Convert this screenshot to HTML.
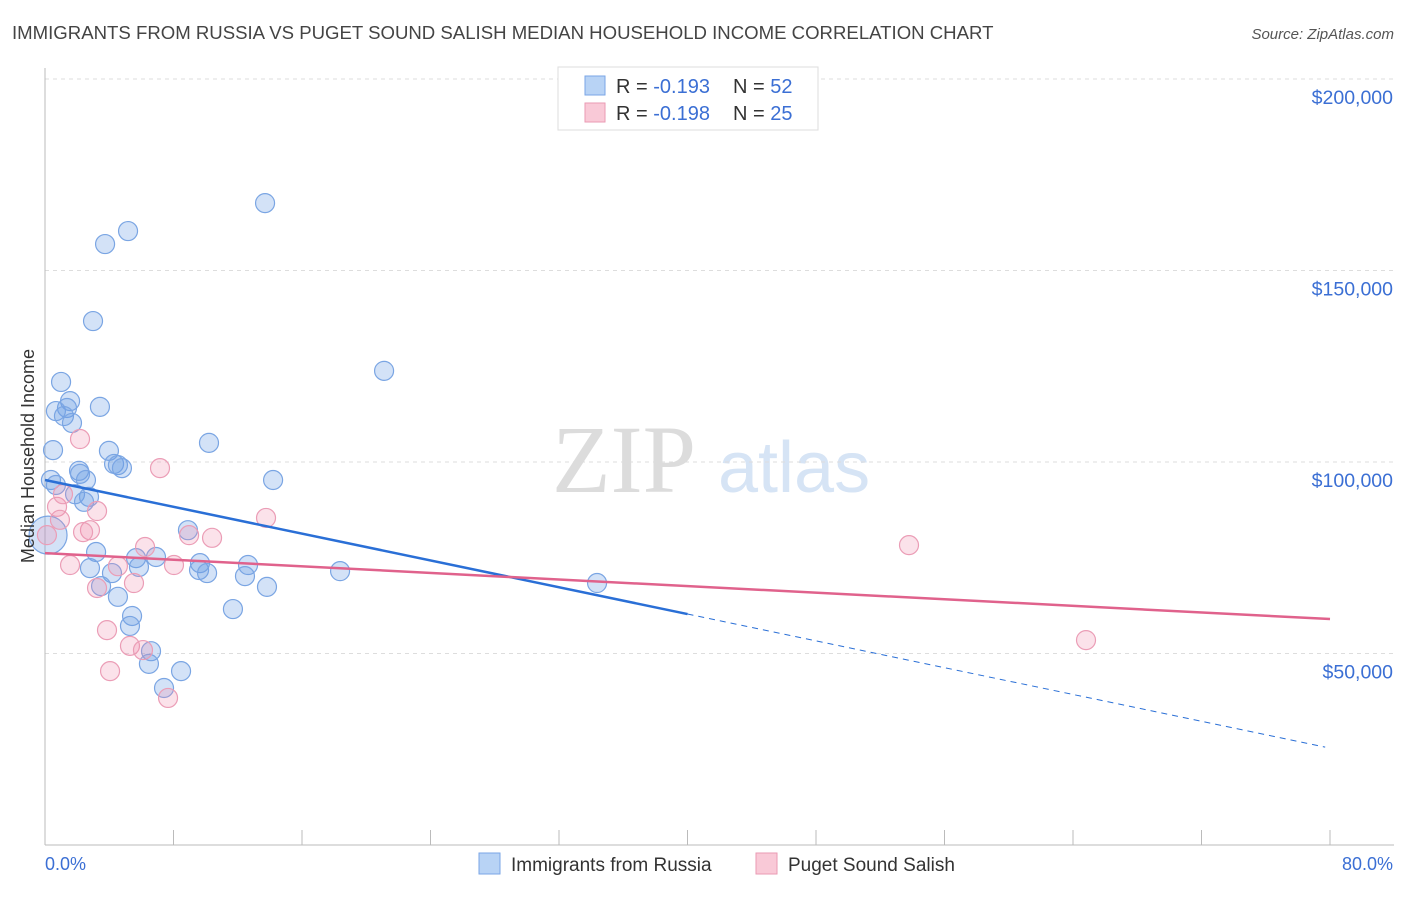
<!DOCTYPE html>
<html><head><meta charset="utf-8"><style>
body{margin:0;background:#fff;font-family:"Liberation Sans",sans-serif}
svg text{font-family:"Liberation Sans",sans-serif}
</style></head><body>
<svg id="c" width="1406" height="892" viewBox="0 0 1406 892">
<text x="12" y="39" font-size="18.6" fill="#444">IMMIGRANTS FROM RUSSIA VS PUGET SOUND SALISH MEDIAN HOUSEHOLD INCOME CORRELATION CHART</text>
<text x="1394" y="39" font-size="15" fill="#555" font-style="italic" text-anchor="end">Source: ZipAtlas.com</text>
<g>
<text x="552" y="492" font-size="96" fill="#dcdcdc" font-family="Liberation Serif" style="font-family:'Liberation Serif',serif">ZIP</text>
<text x="718" y="492" font-size="72" fill="#d6e4f5">atlas</text>
</g>
<g id="grid"></g>
<g id="axes"></g>
<g id="marks"></g>
<text transform="translate(34,456) rotate(-90)" font-size="18" fill="#333" text-anchor="middle">Median Household Income</text>
<text x="45" y="870" font-size="18" fill="#3b6fd4">0.0%</text>
<text x="1393" y="870" font-size="18" fill="#3b6fd4" text-anchor="end">80.0%</text>
<g>
<rect x="558" y="67" width="260" height="63" fill="#fff" stroke="#ddd"/>
<rect x="585" y="76" width="20" height="19" fill="#b8d3f5" stroke="#7aa6e6"/>
<text x="616" y="93" font-size="20" fill="#333">R = <tspan fill="#3b6fd4">-0.193</tspan></text>
<text x="733" y="93" font-size="20" fill="#333">N = <tspan fill="#3b6fd4">52</tspan></text>
<rect x="585" y="103" width="20" height="19" fill="#f9c9d7" stroke="#ea9ab3"/>
<text x="616" y="120" font-size="20" fill="#333">R = <tspan fill="#3b6fd4">-0.198</tspan></text>
<text x="733" y="120" font-size="20" fill="#333">N = <tspan fill="#3b6fd4">25</tspan></text>
</g>
<g>
<rect x="479" y="853" width="21" height="21" fill="#b8d3f5" stroke="#7aa6e6"/>
<text x="511" y="871" font-size="19" fill="#333">Immigrants from Russia</text>
<rect x="756" y="853" width="21" height="21" fill="#f9c9d7" stroke="#ea9ab3"/>
<text x="788" y="871" font-size="19" fill="#333">Puget Sound Salish</text>
</g>
</svg>
<script>
const yTicks=[50000,100000,150000,200000];
const yTickLabels=["$50,000","$100,000","$150,000","$200,000"];
const blueX=[13.70,5.17,3.74,2.99,21.11,1.00,1.56,3.42,1.37,0.68,1.18,1.68,10.21,0.50,3.98,4.30,4.54,4.79,2.12,2.18,14.20,2.55,0.37,0.68,1.87,2.74,2.43,0.19,8.90,3.18,5.67,6.91,2.80,9.65,9.59,12.64,5.85,10.09,4.17,12.45,18.37,34.37,13.82,3.49,4.54,11.70,5.42,5.29,6.60,6.47,8.47,7.41];
const blueY=[167.6,160.3,156.9,136.8,123.8,120.9,115.9,114.4,114.1,113.3,112.0,110.2,105.0,103.1,102.9,99.5,99.2,98.4,97.7,96.9,95.3,95.3,95.3,94.0,91.6,90.9,89.6,80.9,82.2,76.5,74.9,75.2,72.3,73.6,71.8,73.1,72.6,71.0,71.0,70.2,71.5,68.4,67.4,67.6,64.8,61.6,59.8,57.2,50.6,47.3,45.4,41.0];
const pinkX=[2.18,7.16,0.75,3.24,13.76,2.80,2.37,8.97,10.40,6.23,1.56,8.03,4.54,5.54,3.24,3.86,5.29,6.10,4.05,7.66,53.79,64.81,0.12,0.93,1.12];
const pinkY=[106.0,98.4,88.3,87.2,85.4,82.2,81.7,80.9,80.2,77.8,73.1,73.1,72.8,68.4,67.1,56.1,52.0,50.9,45.4,38.4,78.3,53.5,80.9,84.9,91.6];
const blueTrend=[95.3,-0.875];
const pinkTrend=[76.2,-0.215];
const NS="http://www.w3.org/2000/svg";
const X=v=>45+v/80*1285;
const Y=v=>845-v/1000*3.830;
function mk(t,a,p){const e=document.createElementNS(NS,t);for(const k in a)e.setAttribute(k,a[k]);document.getElementById(p).appendChild(e);return e;}
yTicks.forEach((t,i)=>{
 const l=mk('line',{x1:45,x2:1394,y1:Y(t),y2:Y(t),stroke:'#ddd','stroke-dasharray':'4,4'},'grid');
 
 
 const tx=mk('text',{x:1393,y:Y(t)+25,'font-size':19.5,fill:'#3b6fd4','text-anchor':'end'},'grid');
 tx.textContent=yTickLabels[i];
 
 
});
mk('line',{x1:45,x2:45,y1:68,y2:845,stroke:'#bbb'},'axes');
mk('line',{x1:45,x2:1394,y1:845,y2:845,stroke:'#bbb'},'axes');
for(let i=0;i<=10;i++){const l=mk('line',{x1:X(i*8),x2:X(i*8),y1:830,y2:845,stroke:'#bbb'},'axes');
 
 }
blueX.forEach((v,i)=>{const big=i===27;
 const c=mk('circle',{cx:X(v),cy:Y(blueY[i]*1000),r:big?19:9.5,fill:'rgba(110,160,230,0.3)',stroke:'#7aa5e3','stroke-width':1.2},'marks');
 
 });
pinkX.forEach((v,i)=>{
 const c=mk('circle',{cx:X(v),cy:Y(pinkY[i]*1000),r:9.5,fill:'rgba(240,140,170,0.25)',stroke:'#eb9db6','stroke-width':1.2},'marks');
 
 });
const bt=x=>(blueTrend[0]+blueTrend[1]*x)*1000, pt=x=>(pinkTrend[0]+pinkTrend[1]*x)*1000;
let l=mk('line',{x1:X(0),y1:Y(bt(0)),x2:X(40),y2:Y(bt(40)),stroke:'#2a6fd6','stroke-width':2.5},'marks');


l=mk('line',{x1:X(40),y1:Y(bt(40)),x2:X(79.7),y2:Y(bt(79.7)),stroke:'#2a6fd6','stroke-width':1,'stroke-dasharray':'6,5'},'marks');


l=mk('line',{x1:X(0),y1:Y(pt(0)),x2:X(80),y2:Y(pt(80)),stroke:'#e0628c','stroke-width':2.5},'marks');


</script>
</body></html>
